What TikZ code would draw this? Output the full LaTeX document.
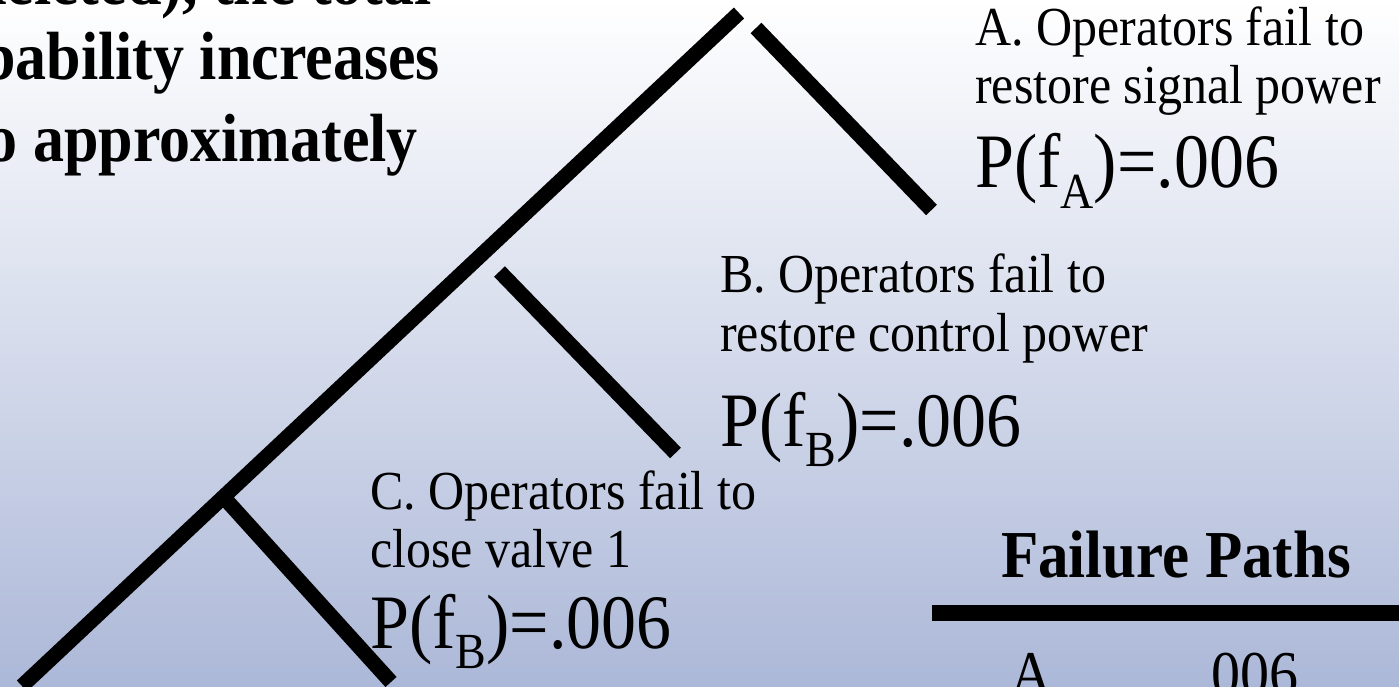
\documentclass[tikz,border=0pt]{standalone}
\usepackage{fontspec}
\setmainfont{Liberation Serif}
\usepackage{graphicx}
\definecolor{bgbot}{RGB}{172,184,216}
\tikzset{
  branch/.style={line width=15pt, line cap=butt},
  rule/.style={line width=16pt, line cap=butt},
  lbl/.style={inner sep=0pt, anchor=base west, font=\fontsize{50}{58}\selectfont},
  prob/.style={inner sep=0pt, anchor=base west, font=\fontsize{70}{80}\selectfont},
  bold/.style={inner sep=0pt, anchor=base east, font=\fontsize{62}{70}\selectfont\bfseries},
  head/.style={inner sep=0pt, anchor=base, font=\fontsize{61}{70}\selectfont\bfseries},
  row/.style={inner sep=0pt, anchor=base west, font=\fontsize{58}{60}\selectfont},
}
\newcommand{\vs}[1]{\scalebox{1}[1.1]{#1}}
\newcommand{\mysub}[1]{\raisebox{-0.27em}{\fontsize{46}{46}\selectfont #1}}
\begin{document}
\begin{tikzpicture}[x=1pt,y=-1pt]
\useasboundingbox (0,0) rectangle (1399,687);
\clip (0,0) rectangle (1399,687);
\shade[top color=white, bottom color=bgbot] (0,0) rectangle (1399,687);

% top-left text (cut by the frame)
\node[bold] (t1) at (432,5) {\vs{deleted), the total}};
\node[bold] (t2) at (440,80) {\vs{probability increases}};
\node[bold] (t3) at (418,162) {\vs{to approximately}};

% tree
\coordinate (trunkBot) at (22,686);
\coordinate (trunkTop) at (739,13);
\coordinate (aStart) at (756,28);
\coordinate (aEnd) at (931.5,210);
\coordinate (bStart) at (499.5,271.5);
\coordinate (bEnd) at (675.5,453);
\coordinate (cStart) at (223.5,497);
\coordinate (cEnd) at (391,682);
\draw[branch] (trunkBot) -- (trunkTop);
\draw[branch] (aStart) -- (aEnd);
\draw[branch] (bStart) -- (bEnd);
\draw[branch] (cStart) -- (cEnd);

% labels A
\node[lbl] (a1) at (975,46) {\vs{A. Operators fail to}};
\node[lbl] (a2) at (975,104) {\vs{restore signal power}};
\node[prob] (pa) at (975,188) {\vs{P(f\mysub{A})=.006}};
% labels B
\node[lbl] (b1) at (720,292) {\vs{B. Operators fail to}};
\node[lbl] (b2) at (720,351) {\vs{restore control power}};
\node[prob] (pb) at (720,446) {\vs{P(f\mysub{B})=.006}};
% labels C
\node[lbl] (c1) at (370,509) {\vs{C. Operators fail to}};
\node[lbl] (c2) at (370,567) {\vs{close valve 1}};
\node[prob] (pc) at (370,648) {\vs{P(f\mysub{B})=.006}};

% table
\node[head] (fp) at (1176,577) {\vs{Failure Paths}};
\coordinate (ruleL) at (932,613);
\coordinate (ruleR) at (1410,613);
\draw[rule] (ruleL) -- (ruleR);
\node[row] (rA) at (1010,695) {\vs{A}};
\node[row] (rAv) at (1197,695) {\vs{.006}};
\end{tikzpicture}
\end{document}
